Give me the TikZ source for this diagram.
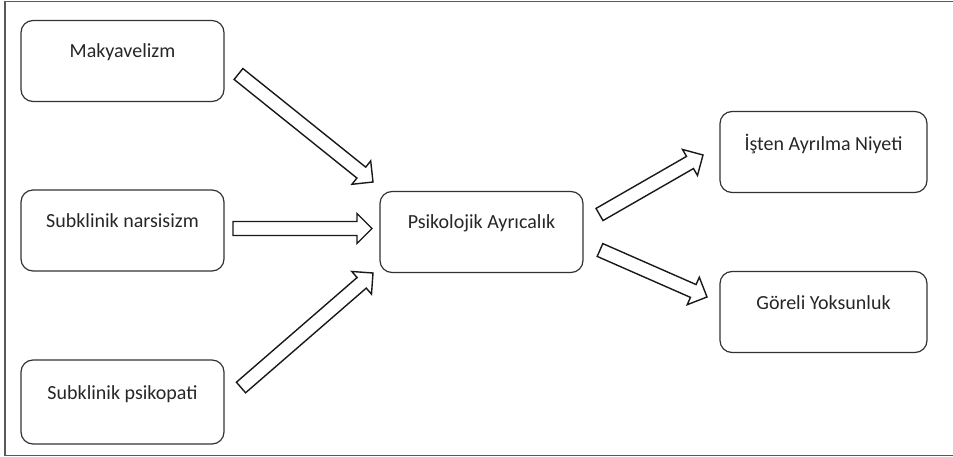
\documentclass[tikz,border=0pt]{standalone}
\usepackage{fontspec}
\setmainfont{Carlito}
\usetikzlibrary{calc}
\tikzset{
  box/.style={draw=black!80, line width=1.2pt, rounded corners=12pt,
    minimum width=203pt, minimum height=81pt, inner sep=0pt,
    font=\fontsize{20}{24}\selectfont, text=black!85,
    text height=14pt, text depth=20pt},
  blockarrow/.style={draw=black!90, line width=1.4pt, fill=white, line join=miter},
  frame/.style={draw=black!65, line width=1.5pt}
}
\newcommand{\blockarr}[2]{%
  \coordinate (hb) at ($(#2)!15pt!(#1)$);
  \draw[blockarrow] ($(#1)!7pt!90:(#2)$) -- ($(hb)!7pt!90:(#2)$) -- ($(hb)!15pt!90:(#2)$)
    -- (#2) -- ($(hb)!15pt!-90:(#2)$) -- ($(hb)!7pt!-90:(#2)$) -- ($(#1)!7pt!-90:(#2)$) -- cycle;}
\begin{document}
\begin{tikzpicture}[x=1pt,y=-1pt]
\useasboundingbox (0,0) rectangle (953,457);
\draw[frame] (953,1.5) -- (5,1.5) -- (5,455.5) -- (953,455.5);

\node[box] (mak) at (122.5,61) {Makyavelizm};
\node[box] (nar) at (122.5,230.5) {Subklinik narsisizm};
\node[box, minimum height=84pt] (psi) at (122.5,402) {Subklinik psikopati};
\node[box] (pa) at (481.5,232) {Psikolojik Ayrıcalık};
\node[box, minimum width=207pt, text depth=17pt] (ist) at (823.5,152) {İşten Ayrılma Niyeti};
\node[box, minimum width=207pt] (gor) at (823.5,312) {Göreli Yoksunluk};

\coordinate (a1s) at (238.5,74);  \coordinate (a1e) at (373,182);
\coordinate (a2s) at (233,228.5); \coordinate (a2e) at (372,228.5);
\coordinate (a3s) at (241,387.5); \coordinate (a3e) at (373,273);
\coordinate (a4s) at (599.5,214.5); \coordinate (a4e) at (703,155);
\coordinate (a5s) at (600,250);   \coordinate (a5e) at (707,297);

\blockarr{a1s}{a1e}
\blockarr{a2s}{a2e}
\blockarr{a3s}{a3e}
\blockarr{a4s}{a4e}
\blockarr{a5s}{a5e}
\end{tikzpicture}
\end{document}
